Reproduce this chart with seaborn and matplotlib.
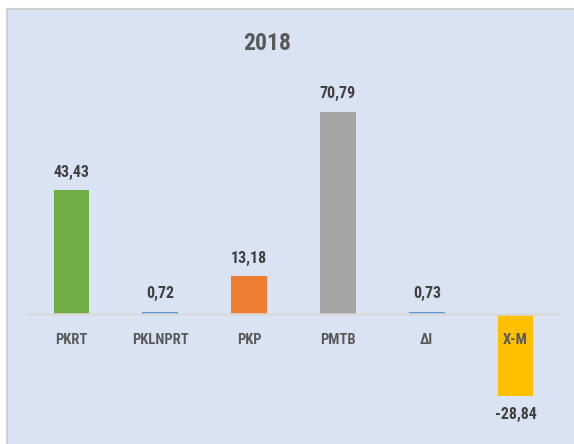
import matplotlib
matplotlib.use("Agg")
import matplotlib.pyplot as plt
from matplotlib.patches import Rectangle
import seaborn as sns
import pandas as pd

# data
categories = ["PKRT", "PKLNPRT", "PKP", "PMTB", "ΔI", "X-M"]
values = [43.43, 0.72, 13.18, 70.79, 0.73, -28.84]
bar_colors = ["#70ad47", "#5b9bd5", "#ed7d31", "#a5a5a5", "#5b9bd5", "#ffc000"]
title = "2018"

sns.set_theme(style="white")
plt.rcParams["font.family"] = ["Roboto Condensed", "DejaVu Sans"]

df = pd.DataFrame({"cat": categories, "val": values})

fig = plt.figure(figsize=(5.74, 4.44), dpi=100)
fig.patch.set_facecolor("white")

# chart area background with thin border (cropped on right/bottom)
bg = Rectangle((7 / 574, -0.05), 1.2, (444 - 9.5) / 444 + 0.05,
               transform=fig.transFigure, facecolor="#dae3f3",
               edgecolor="#d0d0d0", linewidth=1.5, zorder=0)
fig.patches.append(bg)

ax = fig.add_axes([27 / 574, 34 / 444, 533 / 574, 310 / 444])
ax.set_zorder(2)
ax.set_facecolor("none")

sns.barplot(data=df, x="cat", y="val", hue="cat", palette=bar_colors,
            width=0.4, legend=False, ax=ax, saturation=1, linewidth=0)

ax.set_xlim(-0.5, len(categories) - 0.5)
ax.set_ylim(-33.65, 75.0)
ax.axhline(0, color="#d9d9d9", linewidth=1.8, zorder=1)

for s in ax.spines.values():
    s.set_visible(False)
ax.set_xticks([])
ax.set_yticks([])
ax.set_xlabel("")
ax.set_ylabel("")

for i, (c, v) in enumerate(zip(categories, values)):
    lbl = f"{v:.2f}".replace(".", ",")
    off = 13 if v >= 0 else -13
    ax.annotate(lbl, xy=(i, v), xytext=(0, off), textcoords="offset points",
                ha="center", va="center", fontsize=11.5, fontweight="bold",
                color="#404040")
    ax.annotate(c, xy=(i, 0), xytext=(0, -18.7), textcoords="offset points",
                ha="center", va="center", fontsize=10.5, fontweight="bold",
                color="#595959", zorder=5)

fig.text(267 / 574, 1 - 44 / 444, title, ha="center", va="center",
         fontsize=17, fontweight="bold", color="#595959")

fig.savefig("out.png", dpi=100, facecolor="white")
